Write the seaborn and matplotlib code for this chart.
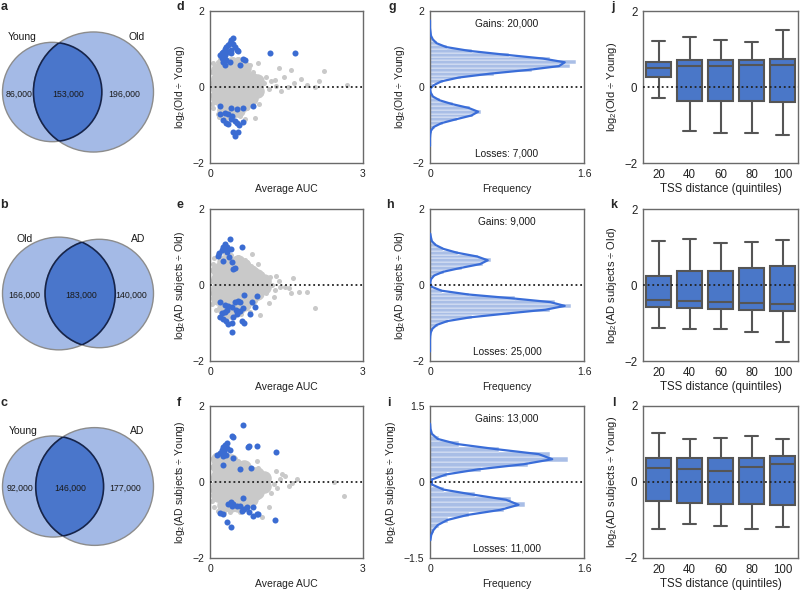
import numpy as np
import pandas as pd
import matplotlib
matplotlib.use("Agg")
import matplotlib.pyplot as plt
from matplotlib.patches import Circle
import seaborn as sns

sns.set_style("white")
plt.rcParams['font.family'] = ['Liberation Sans', 'DejaVu Sans']
plt.rcParams['mathtext.default'] = 'regular'

# ---------------- data ----------------
# Venn diagrams (a, b, c)
venn_names = [("Young", "Old"), ("Old", "AD"), ("Young", "AD")]
venn_left_only = [86000, 166000, 92000]
venn_shared = [153000, 183000, 146000]
venn_right_only = [196000, 140000, 177000]

# scatter panels (d, e, f): dense grey core, sparse grey edge/tail, blue significant peaks
d_grey_core = [(0.15, -0.3), (0.15, -0.05), (0.15, 0.2), (0.15, 0.45),
               (0.28, -0.6), (0.28, -0.35), (0.28, -0.1), (0.28, 0.15), (0.28, 0.4), (0.28, 0.6),
               (0.41, -0.65), (0.41, -0.4), (0.41, -0.15), (0.41, 0.1), (0.41, 0.35), (0.41, 0.6),
               (0.54, -0.6), (0.54, -0.35), (0.54, -0.1), (0.54, 0.15), (0.54, 0.4), (0.54, 0.6),
               (0.67, -0.45), (0.67, -0.2), (0.67, 0.05), (0.67, 0.3), (0.67, 0.5),
               (0.80, -0.3), (0.80, -0.05), (0.80, 0.2), (0.93, -0.1), (0.93, 0.15)]
d_grey_edge = [(0.04, -0.45), (0.04, -0.2), (0.04, 0.1), (0.04, 0.4), (0.05, 0.62), (0.06, -0.55),
               (0.1, 0.5), (0.15, -0.7), (0.16, 0.65), (0.2, 0.75), (0.18, -0.8), (0.3, -0.85),
               (0.3, 0.8), (0.42, -0.85), (0.45, 0.75), (0.55, 0.75), (0.58, -0.75), (0.6, -0.62),
               (0.7, 0.55), (0.72, -0.55), (0.78, 0.58), (0.8, -0.45), (0.85, 0.4), (0.86, -0.3),
               (0.89, -0.81), (0.94, 0.63), (0.96, -0.44), (0.98, 0.25), (1.0, -0.15), (1.05, 0.1),
               (1.1, 0.26), (1.15, -0.05), (1.2, 0.15), (1.27, 0.19), (1.3, 0.02), (1.35, 0.5),
               (1.46, 0.26), (1.52, 0.0), (1.59, 0.45), (1.65, 0.1), (1.78, 0.21), (1.9, 0.05),
               (2.05, 0.0), (2.14, 0.17), (2.24, 0.43), (2.69, 0.04), (1.4, -0.1), (0.68, -0.85)]
d_blue = [(0.45, 1.30), (0.42, 1.23), (0.39, 1.17), (0.36, 1.10), (0.32, 1.06), (0.29, 0.99),
          (0.26, 0.93), (0.23, 0.89), (0.19, 0.84), (0.29, 0.84), (0.36, 0.93), (0.42, 0.97),
          (0.49, 1.06), (0.52, 0.97), (0.42, 0.89), (0.32, 0.71), (0.39, 0.67), (0.29, 0.58),
          (0.58, 0.58), (0.65, 0.73), (0.68, 0.70), (0.55, 0.95), (1.18, 0.90), (1.67, 0.90),
          (0.23, 0.76), (0.45, 1.13), (0.26, 0.67),
          (0.19, -0.50), (0.29, -0.68), (0.19, -0.72), (0.42, -0.55), (0.52, -0.59), (0.65, -0.55),
          (0.84, -0.49), (0.44, -0.77), (0.42, -0.83), (0.25, -0.87), (0.31, -0.96), (0.36, -0.98),
          (0.49, -0.90), (0.53, -0.96), (0.57, -1.01), (0.45, -1.18), (0.55, -1.18), (0.49, -1.29),
          (0.36, -0.72), (0.65, -0.92)]

e_grey_core = [(0.15, -0.35), (0.15, -0.1), (0.15, 0.15), (0.15, 0.4),
               (0.28, -0.6), (0.28, -0.35), (0.28, -0.1), (0.28, 0.15), (0.28, 0.4), (0.28, 0.6),
               (0.41, -0.7), (0.41, -0.45), (0.41, -0.2), (0.41, 0.05), (0.41, 0.3), (0.41, 0.55),
               (0.54, -0.6), (0.54, -0.35), (0.54, -0.1), (0.54, 0.15), (0.54, 0.4), (0.54, 0.6),
               (0.67, -0.5), (0.67, -0.25), (0.67, 0.0), (0.67, 0.25), (0.67, 0.5),
               (0.80, -0.35), (0.80, -0.1), (0.80, 0.15), (0.80, 0.35),
               (0.93, -0.2), (0.93, 0.05), (0.93, 0.25), (1.06, -0.05), (1.06, 0.1)]
e_grey_edge = [(0.04, -0.5), (0.04, -0.2), (0.04, 0.1), (0.04, 0.4), (0.05, 0.55), (0.08, 0.7),
               (0.12, -0.65), (0.15, 0.82), (0.18, -0.85), (0.3, 0.85), (0.3, -0.85), (0.42, 0.8),
               (0.45, -0.8), (0.55, 0.75), (0.6, -0.75), (0.68, 0.65), (0.72, 0.61), (0.7, -0.6),
               (0.8, 0.5), (0.82, 0.82), (0.85, -0.45), (0.9, 0.4), (0.95, -0.3), (0.98, -0.79),
               (1.02, 0.3), (1.08, 0.13), (1.1, -0.2), (1.15, -0.48), (1.18, 0.22), (1.22, 0.0),
               (1.25, -0.32), (1.28, -0.13), (1.35, 0.11), (1.38, -0.04), (1.48, -0.04), (1.54, -0.09),
               (1.58, -0.22), (1.63, 0.18), (1.74, -0.18), (1.9, -0.18), (2.05, -0.61), (1.3, 0.25),
               (0.95, 0.55), (0.78, -0.7)]
e_blue = [(0.39, 1.20), (0.30, 1.07), (0.33, 1.01), (0.25, 1.01), (0.23, 0.92), (0.18, 0.83),
          (0.16, 0.76), (0.33, 0.88), (0.41, 0.94), (0.26, 0.63), (0.38, 0.75), (0.43, 0.61),
          (0.49, 0.46), (0.46, 0.42), (0.62, 0.99), (0.30, 0.96),
          (0.20, -0.44), (0.66, -0.27), (0.92, -0.29), (0.82, -0.46), (0.89, -0.59), (0.79, -0.75),
          (0.30, -0.53), (0.36, -0.55), (0.43, -0.59), (0.49, -0.44), (0.54, -0.41), (0.59, -0.44),
          (0.33, -0.66), (0.30, -0.70), (0.23, -0.73), (0.20, -0.85), (0.26, -0.90), (0.31, -0.96),
          (0.36, -1.03), (0.43, -0.99), (0.46, -0.85), (0.52, -0.75), (0.59, -0.68), (0.64, -0.61),
          (0.62, -0.94), (0.66, -1.01), (0.43, -1.23), (0.51, -0.66)]

f_grey_core = [(0.15, -0.35), (0.15, -0.1), (0.15, 0.15), (0.15, 0.4), (0.15, 0.6),
               (0.28, -0.6), (0.28, -0.35), (0.28, -0.1), (0.28, 0.15), (0.28, 0.4), (0.28, 0.6),
               (0.41, -0.6), (0.41, -0.35), (0.41, -0.1), (0.41, 0.15), (0.41, 0.4), (0.41, 0.55),
               (0.54, -0.6), (0.54, -0.35), (0.54, -0.1), (0.54, 0.15), (0.54, 0.4),
               (0.67, -0.55), (0.67, -0.3), (0.67, -0.05), (0.67, 0.2), (0.67, 0.4),
               (0.80, -0.45), (0.80, -0.2), (0.80, 0.05), (0.80, 0.25),
               (0.93, -0.25), (0.93, 0.0), (0.93, 0.2), (1.06, -0.1), (1.06, 0.1)]
f_grey_edge = [(0.04, -0.5), (0.04, -0.2), (0.04, 0.1), (0.04, 0.4), (0.05, 0.62), (0.08, -0.65),
               (0.12, 0.7), (0.15, -0.75), (0.2, 0.62), (0.28, -0.8), (0.4, -0.78), (0.45, 0.65),
               (0.55, 0.55), (0.58, -0.8), (0.65, 0.45), (0.7, -0.55), (0.8, 0.35), (0.85, 0.33),
               (0.85, -0.5), (0.95, 0.37), (0.95, -0.4), (1.02, -0.93), (1.05, 0.2), (1.08, -0.19),
               (1.12, 0.1), (1.15, -0.67), (1.2, -0.3), (1.25, -0.06), (1.31, -0.15), (1.38, 0.07),
               (1.42, 0.22), (1.48, 0.17), (1.55, -0.1), (1.61, -0.02), (1.71, 0.09), (2.43, 0.0),
               (2.63, -0.38), (1.3, 0.3), (0.92, 0.55), (0.72, -0.72)]
f_blue = [(0.64, 1.50), (0.43, 1.20), (0.46, 1.18), (0.33, 1.03), (0.30, 0.98), (0.25, 0.91),
          (0.23, 0.85), (0.33, 0.90), (0.39, 0.85), (0.14, 0.72), (0.20, 0.77), (0.26, 0.68),
          (0.31, 0.72), (0.45, 0.63), (0.25, 0.46), (0.59, 0.33), (0.80, 0.36), (0.76, 0.94),
          (0.74, 0.92), (0.92, 0.94), (1.29, 0.78), (0.28, 0.81),
          (0.64, -0.41), (0.36, -0.58), (0.43, -0.64), (0.46, -0.58), (0.53, -0.63), (0.58, -0.64),
          (0.62, -0.76), (0.66, -0.71), (0.41, -0.52), (0.20, -0.82), (0.25, -0.84), (0.76, -0.78),
          (0.85, -0.89), (0.92, -0.83), (0.95, -0.84), (0.72, -0.67), (0.33, -1.06), (0.41, -1.19),
          (1.28, -0.99), (0.85, -0.65)]

# histogram panels (g, h, i): bin centres, bar lengths and fitted curve
bin_centers = [-1.75, -1.65, -1.55, -1.45, -1.35, -1.25, -1.15, -1.05, -0.95, -0.85, -0.75, -0.65,
               -0.55, -0.45, -0.35, -0.25, -0.15, -0.05, 0.05, 0.15, 0.25, 0.35, 0.45, 0.55,
               0.65, 0.75, 0.85, 0.95, 1.05, 1.15, 1.25, 1.35, 1.45, 1.55, 1.65, 1.75]
nan = np.nan
g_bars = [0, 0, 0, 0, 0, 0.005, 0.02, 0.05, 0.13, 0.28, 0.45, 0.53,
          0.42, 0.24, 0.10, 0.03, 0.01, 0.0, 0.03, 0.13, 0.32, 0.66, 1.06, 1.45,
          1.52, 1.25, 0.82, 0.44, 0.18, 0.07, 0.03, 0.01, 0, 0, 0, 0]
g_curve = [nan, nan, 0.0, 0.0, 0.0, 0.003, 0.01, 0.04, 0.12, 0.27, 0.43, 0.50,
           0.40, 0.23, 0.10, 0.03, 0.008, 0.0, 0.04, 0.12, 0.30, 0.62, 1.02, 1.34,
           1.40, 1.17, 0.78, 0.41, 0.17, 0.07, 0.03, 0.01, 0.005, 0.0, 0.0, 0.0]
h_bars = [0, 0, 0, 0, 0, 0.01, 0.03, 0.08, 0.19, 0.44, 0.83, 1.25,
          1.46, 1.30, 0.88, 0.41, 0.12, 0.02, 0.0, 0.01, 0.05, 0.15, 0.33, 0.55,
          0.63, 0.50, 0.29, 0.14, 0.06, 0.02, 0.01, 0, 0, 0, 0, 0]
h_curve = [0.0, 0.0, 0.0, 0.0, 0.002, 0.008, 0.025, 0.07, 0.18, 0.42, 0.80, 1.20,
           1.40, 1.25, 0.85, 0.40, 0.12, 0.02, 0.002, 0.01, 0.043, 0.14, 0.32, 0.52,
           0.60, 0.49, 0.28, 0.14, 0.06, 0.02, 0.01, 0.003, nan, nan, nan, nan]
i_bars = [0, 0, 0, 0, 0, 0, 0.005, 0.015, 0.04, 0.09, 0.19, 0.41,
          0.77, 0.99, 0.84, 0.47, 0.15, 0.02, 0.02, 0.18, 0.53, 1.02, 1.43, 1.25,
          0.72, 0.30, 0.09, 0.02, 0.005, 0, 0, 0, 0, 0, 0, 0]
i_curve = [nan, nan, nan, nan, nan, nan, 0.004, 0.012, 0.035, 0.08, 0.18, 0.39,
           0.73, 0.92, 0.79, 0.45, 0.14, 0.02, 0.02, 0.17, 0.50, 0.97, 1.27, 1.13,
           0.68, 0.28, 0.08, 0.02, 0.005, 0.001, nan, nan, nan, nan, nan, nan]
gains = [20000, 9000, 13000]
losses = [7000, 25000, 11000]

# box plots (j, k, l): five-number summaries per TSS-distance quintile
quintiles = ["20", "40", "60", "80", "100"]
j_box = [[-0.30, 0.27, 0.51, 0.67, 1.21], [-1.17, -0.37, 0.54, 0.71, 1.32],
         [-1.22, -0.38, 0.54, 0.71, 1.25], [-1.20, -0.37, 0.57, 0.71, 1.19],
         [-1.25, -0.39, 0.57, 0.73, 1.51]]
k_box = [[-1.14, -0.59, -0.39, 0.25, 1.17], [-1.17, -0.61, -0.43, 0.38, 1.20],
         [-1.16, -0.64, -0.46, 0.38, 1.11], [-1.23, -0.66, -0.48, 0.44, 1.13],
         [-1.51, -0.68, -0.51, 0.50, 1.18]]
l_box = [[-1.23, -0.49, 0.38, 0.62, 1.29], [-1.11, -0.55, 0.35, 0.62, 1.13],
         [-1.17, -0.57, 0.30, 0.62, 1.16], [-1.23, -0.57, 0.39, 0.63, 1.22],
         [-1.19, -0.61, 0.48, 0.68, 1.13]]

ylabels = ["log$_2$(Old ÷ Young)", "log$_2$(AD subjects ÷ Old)", "log$_2$(AD subjects ÷ Young)"]

# ---------------- style ----------------
light_blue = "#a4bae6"
dark_blue = "#4a76cb"
point_blue = "#3b6cd2"
grey_pt = "#c9c9c9"
bar_blue = "#a9bee6"
curve_blue = "#3a6dd8"
box_blue = "#4a77c8"
spine_col = "#6a6a6a"

W, H = 800, 590
fig = plt.figure(figsize=(8, 5.9), dpi=100)


def px_axes(left, top, width, height):
    return fig.add_axes([left / W, 1 - (top + height) / H, width / W, height / H])


def fmt(v):
    return f"{v:g}".replace("-", "\u2212")


def finish(ax, yticks, xlabel, ylabel, fs_tick=7.5, fs_x=7.5, fs_y=7.5, xpad=4):
    ax.set_yticks(yticks, [fmt(v) for v in yticks])
    ax.set_ylim(yticks[0], yticks[-1])
    ax.tick_params(length=0, pad=4, labelsize=fs_tick, colors="#222222")
    ax.set_xlabel(xlabel, fontsize=fs_x, color="#222222", labelpad=xpad)
    ax.set_ylabel(ylabel, fontsize=fs_y, color="#222222")
    for s in ax.spines.values():
        s.set_visible(True)
        s.set_color(spine_col)
        s.set_linewidth(1.0)
    ax.axhline(0, color="#222222", ls=(0, (1, 1.6)), lw=1.3, zorder=10)


def lens_area(r1, r2, d):
    if d >= r1 + r2:
        return 0.0
    if d <= abs(r1 - r2):
        return np.pi * min(r1, r2) ** 2
    a1 = r1 ** 2 * np.arccos((d * d + r1 * r1 - r2 * r2) / (2 * d * r1))
    a2 = r2 ** 2 * np.arccos((d * d + r2 * r2 - r1 * r1) / (2 * d * r2))
    a3 = 0.5 * np.sqrt((-d + r1 + r2) * (d + r1 - r2) * (d - r1 + r2) * (d + r1 + r2))
    return a1 + a2 - a3


# ---------------- Venn column ----------------
vax = fig.add_axes([0, 0, 170 / W, 1])
vax.set_xlim(0, 170)
vax.set_ylim(H, 0)
vax.axis("off")
venn_cy = [92, 293.5, 486.5]
venn_width = 151
venn_cx = 78

for row in range(3):
    lo_n, sh_n, ro_n = venn_left_only[row], venn_shared[row], venn_right_only[row]
    r1 = np.sqrt((lo_n + sh_n) / np.pi)
    r2 = np.sqrt((ro_n + sh_n) / np.pi)
    lo, hi = abs(r1 - r2), r1 + r2
    for _ in range(60):
        mid = (lo + hi) / 2
        if lens_area(r1, r2, mid) > sh_n:
            lo = mid
        else:
            hi = mid
    dist = (lo + hi) / 2
    k = venn_width / (r1 + dist + r2)
    R1, R2, D = r1 * k, r2 * k, dist * k
    cy = venn_cy[row]
    c1 = venn_cx - venn_width / 2 + R1
    c2 = c1 + D

    circ1 = Circle((c1, cy), R1, fc=light_blue, ec="#8c8c8c", lw=1.0, zorder=1)
    circ2 = Circle((c2, cy), R2, fc=light_blue, ec="#8c8c8c", lw=1.0, zorder=1)
    vax.add_patch(circ1)
    vax.add_patch(circ2)
    lens = Circle((c2, cy), R2, fc=dark_blue, ec="none", zorder=2)
    vax.add_patch(lens)
    lens.set_clip_path(circ1)
    e1 = Circle((c2, cy), R2, fill=False, ec="#16244a", lw=1.2, zorder=3)
    vax.add_patch(e1)
    e1.set_clip_path(circ1)
    e2 = Circle((c1, cy), R1, fill=False, ec="#16244a", lw=1.2, zorder=3)
    vax.add_patch(e2)
    e2.set_clip_path(circ2)

    ty = cy + 2
    vax.text(((c1 - R1) + (c2 - R2)) / 2 + 1, ty, f"{lo_n:,}", ha="center", va="center",
             fontsize=6.3, color="#1a1a1a", zorder=5)
    vax.text(((c2 - R2) + (c1 + R1)) / 2 + 1, ty, f"{sh_n:,}", ha="center", va="center",
             fontsize=6.3, color="#1a1a1a", zorder=5)
    vax.text(((c1 + R1) + (c2 + R2)) / 2 - 3, ty, f"{ro_n:,}", ha="center", va="center",
             fontsize=6.3, color="#1a1a1a", zorder=5)
    vax.text(c1 - 0.6 * R1, cy - 55, venn_names[row][0], ha="center", va="center",
             fontsize=7.5, color="#1a1a1a")
    vax.text(c2 + 0.72 * R2, cy - 55, venn_names[row][1], ha="center", va="center",
             fontsize=7.5, color="#1a1a1a")

# ---------------- panel grid ----------------
row_tops = [11, 209, 406]
ph = 152

# scatter column
scatter_sets = [(d_grey_core, d_grey_edge, d_blue), (e_grey_core, e_grey_edge, e_blue),
                (f_grey_core, f_grey_edge, f_blue)]
for row, (core, edge, blue) in enumerate(scatter_sets):
    ax = px_axes(210, row_tops[row], 153, ph)
    cx, cy = zip(*core)
    sns.scatterplot(x=list(cx), y=list(cy), color=grey_pt, s=110, linewidth=0, ax=ax, zorder=2)
    ex, ey = zip(*edge)
    sns.scatterplot(x=list(ex), y=list(ey), color=grey_pt, s=13, linewidth=0, ax=ax, zorder=2)
    bx, by = zip(*blue)
    sns.scatterplot(x=list(bx), y=list(by), color=point_blue, s=19, linewidth=0, ax=ax, zorder=3)
    ax.set_xlim(0, 3)
    ax.set_xticks([0, 3], ["0", "3"])
    finish(ax, [-2, 0, 2], "Average AUC", ylabels[row])

# histogram column
hist_sets = [(g_bars, g_curve, [-2, 0, 2]), (h_bars, h_curve, [-2, 0, 2]),
             (i_bars, i_curve, [-1.5, 0, 1.5])]
for row, (bars, curve, yt) in enumerate(hist_sets):
    ax = px_axes(430, row_tops[row], 154, ph)
    hdf = pd.DataFrame({"c": bin_centers, "w": bars, "fit": curve})
    sns.histplot(data=hdf, y="c", weights="w", binwidth=0.1, binrange=(-1.8, 1.8),
                 color=bar_blue, alpha=1, edgecolor="white", linewidth=0.35, ax=ax, zorder=1)
    sns.lineplot(data=hdf, x="fit", y="c", orient="y", sort=False, estimator=None,
                 color=curve_blue, lw=1.6, ax=ax, zorder=3)
    ax.set_xlim(0, 1.6)
    ax.set_xticks([0, 1.6], ["0", "1.6"])
    finish(ax, yt, "Frequency", ylabels[row])
    ax.text(0.5, 0.915, f"Gains: {gains[row]:,}", transform=ax.transAxes, ha="center",
            va="center", fontsize=7.3, color="#1a1a1a")
    ax.text(0.5, 0.06, f"Losses: {losses[row]:,}", transform=ax.transAxes, ha="center",
            va="center", fontsize=7.3, color="#1a1a1a")

# box plot column
for row, box in enumerate([j_box, k_box, l_box]):
    ax = px_axes(643, row_tops[row], 155, ph)
    df = pd.DataFrame({"q": np.repeat(quintiles, 5), "v": np.concatenate(box)})
    sns.boxplot(data=df, x="q", y="v", order=quintiles, color=box_blue, saturation=1,
                width=0.83, linewidth=1.5, linecolor="#555555", whis=(0, 100), ax=ax)
    finish(ax, [-2, 0, 2], "TSS distance (quintiles)", ylabels[row],
           fs_tick=8.3, fs_x=8.3, fs_y=8, xpad=1.5)

# panel letters
letters = [("a", 4, 7), ("d", 180, 7), ("g", 392, 7), ("j", 613, 7),
           ("b", 4, 205), ("e", 180, 205), ("h", 390, 205), ("k", 614, 205),
           ("c", 4, 403), ("f", 179, 403), ("i", 389, 403), ("l", 614, 403)]
for txt, x, y in letters:
    fig.text(x / W, 1 - y / H, txt, ha="center", va="center", fontsize=9, fontweight="bold")

fig.savefig("out.png", dpi=100)
